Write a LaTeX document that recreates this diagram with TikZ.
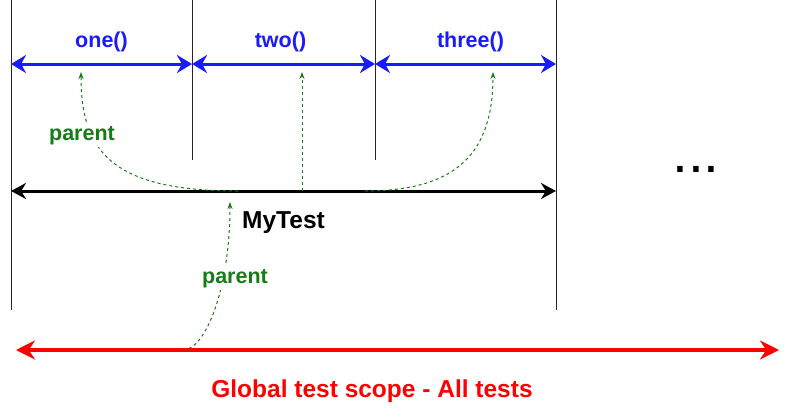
\documentclass[tikz,border=0pt]{standalone}
\usepackage{fontspec}
\setmainfont{Liberation Sans}
\usetikzlibrary{arrows.meta}

\definecolor{testblue}{RGB}{26,26,255}
\definecolor{parentgreen}{RGB}{22,125,22}
\definecolor{globalred}{RGB}{255,0,0}

\tikzset{
  border/.style={line width=1pt, color=black!85},
  testspan/.style={line width=3pt, color=testblue,
    {Stealth[length=15pt,width=18pt]}-{Stealth[length=15pt,width=18pt]}},
  classspan/.style={line width=3pt, color=black,
    {Stealth[length=15pt,width=16pt]}-{Stealth[length=15pt,width=16pt]}},
  globalspan/.style={line width=4pt, color=globalred,
    {Stealth[length=19pt,width=19pt]}-{Stealth[length=19pt,width=19pt]}},
  parentlink/.style={line width=1pt, color=parentgreen, dash pattern=on 3pt off 3pt,
    -{Stealth[length=7pt,width=5pt]}},
  testname/.style={font=\fontsize{21.5}{24}\selectfont\bfseries, text=testblue, inner sep=0pt, anchor=base},
  parentname/.style={font=\fontsize{21.5}{24}\selectfont\bfseries, text=parentgreen, fill=white, inner sep=3pt, anchor=base},
  scopename/.style={font=\fontsize{24.5}{28}\selectfont\bfseries, inner sep=0pt, anchor=base}
}

\begin{document}
\begin{tikzpicture}[x=1pt, y=-1pt]
  \useasboundingbox (0,0) rectangle (792,407);

  % borders of the scopes
  \coordinate (top0) at (11,0);
  \coordinate (top1) at (192,0);
  \coordinate (top2) at (375,0);
  \coordinate (top3) at (556,0);
  \coordinate (bot0) at (11,310);
  \coordinate (bot1) at (192,160);
  \coordinate (bot2) at (375,160);
  \coordinate (bot3) at (556,310);
  \draw [border] (top0) -- (bot0);
  \draw [border] (top1) -- (bot1);
  \draw [border] (top2) -- (bot2);
  \draw [border] (top3) -- (bot3);

  % test methods
  \coordinate (m0) at (11,64);
  \coordinate (m1) at (192,64);
  \coordinate (m2) at (375,64);
  \coordinate (m3) at (556,64);
  \draw [testspan] (m0) -- (m1);
  \draw [testspan] (m1) -- (m2);
  \draw [testspan] (m2) -- (m3);
  \node [testname] (one) at (101.5,47) {one()};
  \node [testname] (two) at (280.5,47) {two()};
  \node [testname] (three) at (470.5,47) {three()};

  % test class
  \coordinate (c0) at (11,191);
  \coordinate (c1) at (556,191);
  \draw [classspan] (c0) -- (c1);
  \node [scopename] (mytest) at (283.5,228) {MyTest};

  % global scope
  \coordinate (g0) at (16,350);
  \coordinate (g1) at (779,350);
  \draw [globalspan] (g0) -- (g1);
  \node [scopename, text=globalred] (global) at (372,397) {Global test scope - All tests};

  \node [font=\fontsize{57}{60}\selectfont, inner sep=0pt, anchor=base] (more) at (696,172) {...};

  % parent links
  \coordinate (onefrom) at (238,191);
  \coordinate (oneto) at (81,72);
  \coordinate (twofrom) at (302,191);
  \coordinate (twoto) at (302,72);
  \coordinate (threefrom) at (365,191);
  \coordinate (threeto) at (493,72);
  \coordinate (classfrom) at (183,350);
  \coordinate (classto) at (230,202);
  \draw [parentlink] (onefrom) .. controls (110,191) and (81,150) .. (oneto);
  \draw [parentlink] (twofrom) -- (twoto);
  \draw [parentlink] (threefrom) .. controls (460,191) and (493,150) .. (threeto);
  \draw [parentlink] (classfrom) .. controls (205,350) and (230,290) .. (classto);
  \node [parentname] (parentone) at (82,140) {parent};
  \node [parentname] (parentclass) at (235,283) {parent};
\end{tikzpicture}
\end{document}
